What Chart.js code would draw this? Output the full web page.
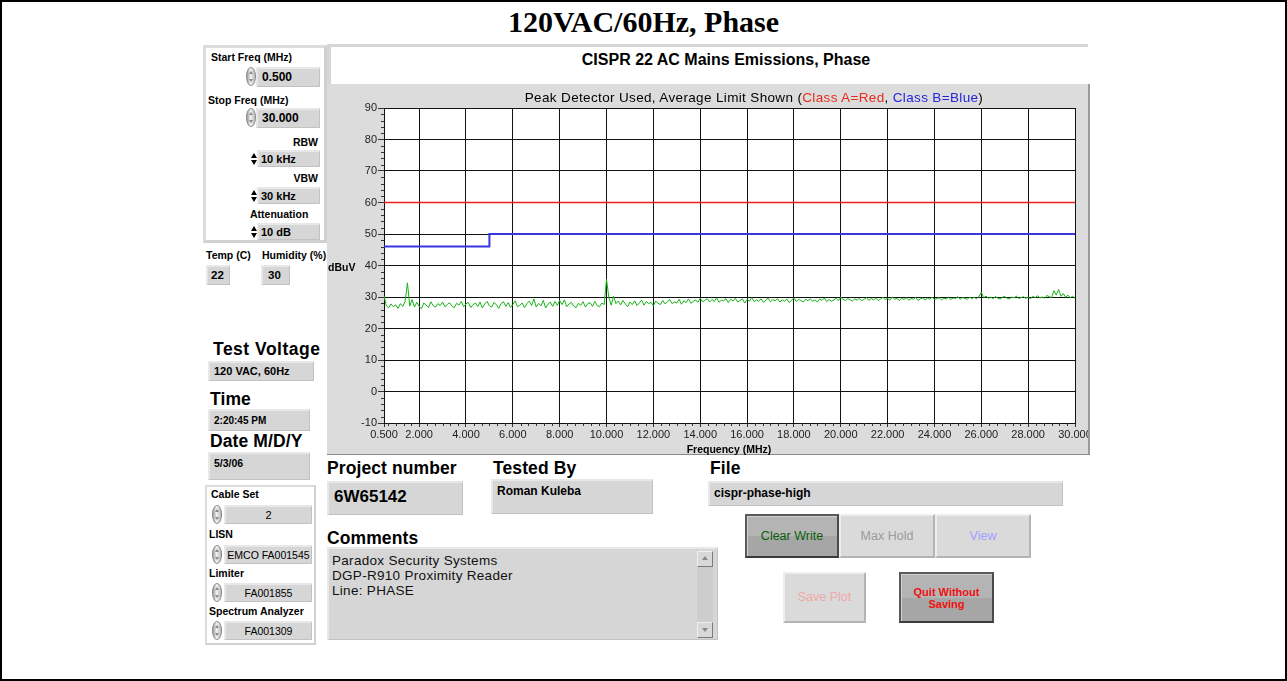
<!DOCTYPE html>
<html>
<head>
<meta charset="utf-8">
<title>120VAC/60Hz, Phase</title>
<script src="https://cdn.jsdelivr.net/npm/chart.js@4.4.1/dist/chart.umd.min.js"></script>
<style>
  html, body { margin: 0; padding: 0; background: #fff; }
  body { width: 1287px; height: 681px; position: relative; overflow: hidden;
         font-family: "Liberation Sans", Arial, sans-serif; color: #000; }
  .frame { position: absolute; left: 0; top: 0; width: 1287px; height: 681px;
           box-sizing: border-box; border: 2px solid #000; pointer-events: none; }
  .abs { position: absolute; white-space: nowrap; }
  .lab { position: absolute; white-space: nowrap; font-weight: bold; font-size: 10.5px; line-height: 12px; }
  .big { position: absolute; white-space: nowrap; font-weight: bold; font-size: 17.5px; line-height: 20px; letter-spacing: 0.1px; }
  .panel { position: absolute; box-sizing: border-box; background: #fff;
           border: 3px solid #dcdcdc; border-right-color: #d0d0d0; border-bottom-color: #d0d0d0; }
  .fld { position: absolute; box-sizing: border-box; background: #d6d6d6;
         border-top: 2px solid #e8e8e8; border-left: 2px solid #e8e8e8;
         border-bottom: 1px solid #c2c2c2; border-right: 1px solid #c2c2c2;
         font-weight: bold; white-space: nowrap; overflow: hidden; }
  .spin { position: absolute; width: 10px; height: 19px; box-sizing: border-box; border-radius: 5px / 9px;
          background: linear-gradient(90deg, #9c9c9c, #f2f2f2 45%, #b8b8b8); border: 1px solid #8c8c8c; }
  .spin::before, .spin::after { content: ""; position: absolute; left: 2px; width: 0; height: 0;
          border-left: 2px solid transparent; border-right: 2px solid transparent; }
  .spin::before { top: 3px; border-bottom: 3px solid #8a8a8a; }
  .spin::after { bottom: 3px; border-top: 3px solid #8a8a8a; }
  .arw { position: absolute; width: 6px; height: 15px; }
  .arw::before, .arw::after { content: ""; position: absolute; left: 0; width: 0; height: 0;
          border-left: 3px solid transparent; border-right: 3px solid transparent; }
  .arw::before { top: 2px; border-bottom: 5px solid #000; }
  .arw::after { bottom: 1px; border-top: 5px solid #000; }
  .btn { position: absolute; box-sizing: border-box; text-align: center; font-size: 12.5px; }
  .btn.up { background: #dadada; border: 2px solid; border-color: #eeeeee #b4b4b4 #b4b4b4 #eeeeee; }
  .btn.down { background: linear-gradient(#b4b4b4 0 50%, #a6a6a6 50% 100%);
              border: 2px solid; border-color: #5a5a5a #4a4a4a #3a3a3a #5a5a5a;
              box-shadow: inset 1px 1px 0 #d0d0d0; }
  #plotWrap { position: absolute; left: 327px; top: 84px; width: 763px; height: 371px;
              background: #dcdcdc; overflow: hidden; }
  #plot { position: absolute; left: 0; top: 0; }
</style>
</head>
<body>

<!-- page title -->
<div class="abs" style="left:0;width:1287px;top:5px;text-align:center;font:bold 30px 'Liberation Serif','Times New Roman',serif;line-height:34px;">120VAC/60Hz, Phase</div>

<!-- sweep settings panel -->
<div class="panel" style="left:203px;top:45px;width:124px;height:198px;"></div>
<div class="lab" style="left:211px;top:51px;">Start Freq (MHz)</div>
<div class="spin" style="left:246px;top:67px;"></div>
<div class="fld" style="left:256px;top:67px;width:64px;height:20px;font-size:12px;line-height:17px;padding-left:4px;">0.500</div>
<div class="lab" style="left:208px;top:94px;">Stop Freq (MHz)</div>
<div class="spin" style="left:246px;top:108px;"></div>
<div class="fld" style="left:256px;top:108px;width:64px;height:20px;font-size:12px;line-height:17px;padding-left:4px;">30.000</div>
<div class="lab" style="left:278px;width:40px;text-align:right;top:136px;">RBW</div>
<div class="arw" style="left:251px;top:151px;"></div>
<div class="fld" style="left:257px;top:150px;width:63px;height:17px;font-size:11px;line-height:14px;padding-left:2px;">10 kHz</div>
<div class="lab" style="left:278px;width:40px;text-align:right;top:172px;">VBW</div>
<div class="arw" style="left:251px;top:188px;"></div>
<div class="fld" style="left:257px;top:187px;width:63px;height:17px;font-size:11px;line-height:14px;padding-left:2px;">30 kHz</div>
<div class="lab" style="left:250px;top:208px;">Attenuation</div>
<div class="arw" style="left:251px;top:224px;"></div>
<div class="fld" style="left:257px;top:223px;width:63px;height:17px;font-size:11px;line-height:14px;padding-left:2px;">10 dB</div>
<div class="lab" style="left:206px;top:249px;">Temp (C)</div>
<div class="lab" style="left:262px;top:249px;">Humidity (%)</div>
<div class="fld" style="left:206px;top:265px;width:24px;height:20px;font-size:11.5px;line-height:17px;padding-left:3px;">22</div>
<div class="fld" style="left:261px;top:265px;width:29px;height:20px;font-size:11.5px;line-height:17px;padding-left:5px;">30</div>

<!-- test conditions -->
<div class="big" style="left:213px;top:339px;letter-spacing:0.5px;">Test Voltage</div>
<div class="fld" style="left:208px;top:361px;width:106px;height:20px;font-size:11px;line-height:17px;padding-left:4px;">120 VAC, 60Hz</div>
<div class="big" style="left:210px;top:389px;">Time</div>
<div class="fld" style="left:208px;top:409px;width:102px;height:22px;font-size:10px;line-height:19px;padding-left:4px;">2:20:45 PM</div>
<div class="big" style="left:210px;top:431px;">Date M/D/Y</div>
<div class="fld" style="left:208px;top:452px;width:102px;height:28px;font-size:10.5px;line-height:18px;padding-left:4px;">5/3/06</div>

<!-- equipment panel -->
<div class="panel" style="left:205px;top:485px;width:111px;height:160px;border-width:2px;"></div>
<div class="lab" style="left:211px;top:488px;">Cable Set</div>
<div class="spin" style="left:212px;top:505px;"></div>
<div class="fld" style="left:224px;top:505px;width:88px;height:19px;font-size:11px;font-weight:normal;line-height:16px;text-align:center;">2</div>
<div class="lab" style="left:209px;top:528px;">LISN</div>
<div class="spin" style="left:212px;top:545px;"></div>
<div class="fld" style="left:224px;top:545px;width:88px;height:19px;font-size:10.5px;font-weight:normal;line-height:16px;text-align:center;">EMCO FA001545</div>
<div class="lab" style="left:209px;top:567px;">Limiter</div>
<div class="spin" style="left:212px;top:583px;"></div>
<div class="fld" style="left:224px;top:583px;width:88px;height:19px;font-size:10.5px;font-weight:normal;line-height:16px;text-align:center;">FA001855</div>
<div class="lab" style="left:209px;top:605px;">Spectrum Analyzer</div>
<div class="spin" style="left:212px;top:621px;"></div>
<div class="fld" style="left:224px;top:621px;width:88px;height:19px;font-size:10.5px;font-weight:normal;line-height:16px;text-align:center;">FA001309</div>

<!-- graph header -->
<div class="abs" style="left:327px;top:44px;width:761px;height:40px;box-sizing:border-box;background:#fff;border-top:3px solid #d6d6d6;border-left:4px solid #d6d6d6;"></div>
<div class="abs" style="left:526px;width:400px;top:51px;text-align:center;font-weight:bold;font-size:16px;line-height:18px;">CISPR 22 AC Mains Emissions, Phase</div>

<!-- graph -->
<div id="plotWrap"><canvas id="plot" width="800" height="371"></canvas></div>
<div class="abs" style="left:1088px;top:84px;width:2px;height:371px;background:#9a9a9a;"></div>
<div class="abs" style="left:327px;top:454px;width:763px;height:1px;background:#8a8a8a;"></div>
<div class="abs" style="left:454px;width:600px;top:90px;text-align:center;font-size:13.5px;line-height:15px;letter-spacing:0.35px;">Peak Detector Used, Average Limit Shown (<span style="color:#e82a1c">Class A=Red</span>, <span style="color:#2424dc">Class B=Blue</span>)</div>
<div class="lab" style="left:328px;top:261px;">dBuV</div>
<div class="lab" style="left:384px;width:690px;text-align:center;top:443px;">Frequency (MHz)</div>

<!-- job details -->
<div class="big" style="left:327px;top:458px;">Project number</div>
<div class="fld" style="left:327px;top:481px;width:136px;height:34px;font-size:17px;line-height:28px;padding-left:5px;">6W65142</div>
<div class="big" style="left:493px;top:458px;">Tested By</div>
<div class="fld" style="left:491px;top:479px;width:162px;height:35px;font-size:12px;line-height:15px;padding:3px 0 0 4px;">Roman Kuleba</div>
<div class="big" style="left:710px;top:458px;">File</div>
<div class="fld" style="left:708px;top:481px;width:355px;height:25px;font-size:12px;line-height:21px;padding-left:4px;">cispr-phase-high</div>

<div class="big" style="left:327px;top:528px;">Comments</div>
<div class="fld" style="left:327px;top:547px;width:391px;height:93px;font-size:13.5px;font-weight:normal;line-height:15px;letter-spacing:0.3px;padding:4px 0 0 3px;color:#111;">Paradox Security Systems<br>DGP-R910 Proximity Reader<br>Line: PHASE</div>
<div class="abs" style="left:697px;top:551px;width:16px;height:87px;background:#cdcdcd;"></div>
<div class="abs" style="left:697px;top:551px;width:16px;height:16px;box-sizing:border-box;background:#d8d8d8;border:1px solid;border-color:#f0f0f0 #7a7a7a #7a7a7a #f0f0f0;"></div>
<div class="abs" style="left:702px;top:556px;width:0;height:0;border-left:3px solid transparent;border-right:3px solid transparent;border-bottom:4px solid #8a8a8a;"></div>
<div class="abs" style="left:697px;top:622px;width:16px;height:16px;box-sizing:border-box;background:#d8d8d8;border:1px solid;border-color:#f0f0f0 #7a7a7a #7a7a7a #f0f0f0;"></div>
<div class="abs" style="left:702px;top:628px;width:0;height:0;border-left:3px solid transparent;border-right:3px solid transparent;border-top:4px solid #8a8a8a;"></div>

<!-- controls -->
<div class="btn down" style="left:745px;top:514px;width:94px;height:44px;line-height:40px;color:#0b5e0b;">Clear Write</div>
<div class="btn up" style="left:839px;top:514px;width:96px;height:44px;line-height:40px;color:#9a9a9a;">Max Hold</div>
<div class="btn up" style="left:935px;top:514px;width:96px;height:44px;line-height:40px;color:#a0a0ff;">View</div>
<div class="btn up" style="left:783px;top:572px;width:83px;height:51px;line-height:47px;color:#f0a8a8;">Save Plot</div>
<div class="btn down" style="left:899px;top:572px;width:95px;height:51px;padding-top:12px;line-height:12px;font-size:11px;font-weight:bold;color:#f01010;">Quit Without<br>Saving</div>

<div class="frame"></div>

<script>
// Sweep: 0.500 to 30.000 MHz, one reading every 0.1 MHz (peak detector, dBuV)
const sweepStartMHz = 0.5;
const sweepStepMHz = 0.1;
const phaseTraceDbuv = [
  30.4, 27.2, 26.6, 27.8, 26.9, 27.5, 26.4, 27.9, 27.0, 28.6, 34.5, 27.1, 29.2, 26.8, 28.3, 27.0, 26.3, 28.1, 27.4, 26.7,
  28.5, 27.2, 26.8, 27.9, 27.3, 28.4, 26.9, 27.6, 28.2, 27.1, 26.6, 28.0, 27.4, 28.6, 26.9, 27.8, 28.3, 26.7, 27.5, 28.1,
  27.0, 28.4, 26.5, 27.8, 28.6, 27.2, 26.8, 28.3, 27.5, 26.4, 27.9, 28.5, 27.0, 28.2, 26.7, 27.6, 28.8, 26.9, 27.4, 28.1,
  26.6, 27.9, 28.7, 27.3, 29.4, 26.8, 28.0, 27.2, 28.9, 26.5, 27.7, 28.4, 27.0, 28.6, 27.3, 28.9, 27.6, 29.1, 26.9, 27.8,
  28.3, 27.1, 26.6, 28.0, 27.4, 28.5, 26.8, 27.9, 28.2, 27.0, 28.6, 27.3, 26.9, 28.1, 27.6, 35.6, 29.8, 27.4, 30.2, 27.9,
  28.7, 27.5, 28.9, 27.8, 26.9, 28.4, 27.6, 28.8, 27.3, 28.1, 29.0, 27.4, 28.6, 27.9, 28.3, 27.2, 28.7, 28.0, 27.6, 28.9,
  27.8, 28.5, 29.2, 27.9, 28.4, 28.1, 29.3, 27.7, 28.8, 28.2, 29.4, 28.0, 28.6, 29.1, 28.3, 29.6, 28.5, 28.9, 29.5, 28.4,
  29.2, 28.6, 29.7, 28.3, 29.0, 28.8, 29.5, 28.2, 29.3, 28.7, 29.6, 28.4, 28.9, 29.4, 28.1, 29.2, 28.7, 29.8, 28.5, 29.1,
  28.6, 29.4, 28.3, 29.0, 29.6, 28.5, 29.2, 28.8, 29.5, 28.4, 29.1, 28.7, 29.3, 28.2, 29.0, 29.7, 28.6, 29.2, 28.9, 28.4,
  29.3, 28.8, 29.5, 28.6, 29.1, 28.4, 29.4, 28.9, 29.7, 28.5, 29.2, 28.7, 29.0, 29.6, 28.8, 30.0, 29.2, 28.9, 29.5, 29.1,
  28.7, 29.4, 29.0, 29.6, 28.8, 29.3, 29.8, 28.9, 29.5, 29.1, 29.7, 28.8, 29.4, 29.9, 29.2, 29.6, 29.0, 30.0, 29.3, 29.5,
  28.9, 29.6, 29.2, 29.8, 29.0, 29.5, 29.3, 29.9, 28.9, 29.4, 29.7, 29.1, 29.6, 29.3, 30.0, 29.2, 29.5, 29.8, 29.1, 29.6,
  29.4, 29.9, 29.2, 29.7, 29.5, 30.1, 29.3, 29.8, 29.6, 29.2, 30.0, 29.5, 29.9, 29.4, 30.2, 31.5, 29.8, 30.3, 29.6, 29.9,
  29.5, 30.1, 29.7, 29.3, 29.9, 30.2, 29.6, 29.4, 30.0, 29.7, 30.3, 29.5, 29.8, 30.1, 29.6, 30.0, 29.4, 30.2, 29.8, 30.4,
  29.7, 30.0, 29.6, 30.5, 30.1, 29.8, 32.0, 30.6, 32.4, 30.2, 31.1, 29.9, 30.6, 29.7, 30.3, 29.5
];

// CISPR 22 average limits (dBuV)
const classAFreqMHz = [0.5, 30];
const classADbuv = [60, 60];
const classBFreqMHz = [0.5, 5, 5, 30];
const classBDbuv = [46, 46, 50, 50];

// Axis ticks
const freqTickValues = [0.5, 2, 4, 6, 8, 10, 12, 14, 16, 18, 20, 22, 24, 26, 28, 30];
const levelTickValues = [-10, 0, 10, 20, 30, 40, 50, 60, 70, 80, 90];

const toPoints = (xs, ys) => xs.map((x, i) => ({ x: x, y: ys[i] }));
const tracePoints = phaseTraceDbuv.map((v, i) => ({ x: sweepStartMHz + i * sweepStepMHz, y: v }));

const tickFont = { family: "'Liberation Sans', Arial, sans-serif", size: 11 };

// small ticks between the labelled divisions
const minorTicks = {
  id: 'minorTicks',
  afterDraw(chart) {
    const { ctx, chartArea: a, scales: { x, y } } = chart;
    ctx.save();
    ctx.strokeStyle = '#333';
    ctx.lineWidth = 1;
    ctx.beginPath();
    for (let v = -8; v < 90; v += 2) {
      if (v % 10 === 0) continue;
      const py = Math.round(y.getPixelForValue(v)) + 0.5;
      ctx.moveTo(a.left - 3, py);
      ctx.lineTo(a.left, py);
    }
    for (let k = 0; k < 15; k++) {
      for (let j = 1; j < 6; j++) {
        const f = 2 * k + j / 3;
        if (f <= 0.55) continue;
        const px = Math.round(x.getPixelForValue(f)) + 0.5;
        ctx.moveTo(px, a.bottom);
        ctx.lineTo(px, a.bottom + 3);
      }
    }
    ctx.stroke();
    ctx.restore();
  }
};

// white plotting surface
const plotBackground = {
  id: 'plotBackground',
  beforeDraw(chart) {
    const { ctx, chartArea: a } = chart;
    ctx.save();
    ctx.fillStyle = '#fff';
    ctx.fillRect(a.left, a.top, a.right - a.left, a.bottom - a.top);
    ctx.restore();
  }
};

new Chart(document.getElementById('plot'), {
  type: 'line',
  data: {
    datasets: [
      { label: 'Phase', data: tracePoints, borderColor: '#17b317', borderWidth: 1 },
      { label: 'Class B', data: toPoints(classBFreqMHz, classBDbuv), borderColor: '#3636e4', borderWidth: 2 },
      { label: 'Class A', data: toPoints(classAFreqMHz, classADbuv), borderColor: '#f01e1e', borderWidth: 1.5 }
    ]
  },
  options: {
    responsive: false,
    animation: false,
    devicePixelRatio: 1,
    layout: { padding: { left: 0, top: 24, right: 52, bottom: 0 }, autoPadding: false },
    elements: { point: { radius: 0, hoverRadius: 0 }, line: { tension: 0 } },
    plugins: { legend: { display: false }, tooltip: { enabled: false }, title: { display: false } },
    scales: {
      x: {
        type: 'linear', min: 0.5, max: 30,
        afterBuildTicks(s) { s.ticks = freqTickValues.map(v => ({ value: v })); },
        afterFit(s) { s.height = 32; },
        ticks: { callback: v => Number(v).toFixed(3), font: tickFont, color: '#222', maxRotation: 0, minRotation: 0, autoSkip: false, padding: 1 },
        grid: { color: '#111', lineWidth: 1, tickLength: 4, tickColor: '#333' },
        border: { color: '#111' }
      },
      y: {
        type: 'linear', min: -10, max: 90,
        afterBuildTicks(s) { s.ticks = levelTickValues.map(v => ({ value: v })); },
        afterFit(s) { s.width = 57; },
        ticks: { callback: v => String(v), font: tickFont, color: '#222', padding: 1 },
        grid: { color: '#111', lineWidth: 1, tickLength: 6, tickColor: '#333' },
        border: { color: '#111' }
      }
    }
  },
  plugins: [plotBackground, minorTicks]
});
</script>
</body>
</html>
